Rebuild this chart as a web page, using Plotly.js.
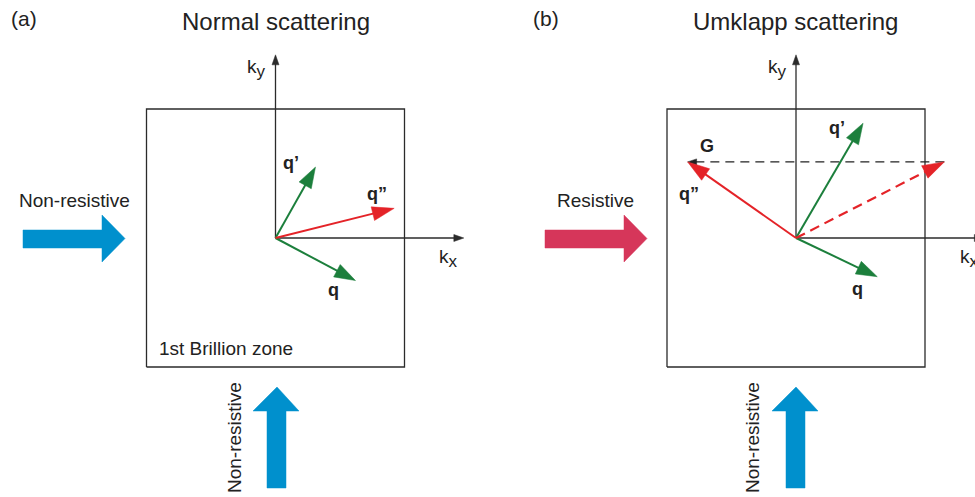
<!DOCTYPE html>
<html><head><meta charset="utf-8">
<script src="https://cdn.plot.ly/plotly-3.0.1.min.js"></script>
<style>html,body{margin:0;padding:0;background:#fff}#chart{width:975px;height:497px}</style>
</head><body><div id="chart"></div>
<script>
// ---------- data (k-space units, Brillouin zone half-width = 1) ----------
const zoneHalf = 1;
const panelTitles = ['Normal scattering', 'Umklapp scattering'];
const panelTags = ['(a)', '(b)'];
const kxAxisLen = [1.46, 1.46];
const kyAxisLen = [1.42, 1.42];
// Panel (a): normal process  q + q' = q''
const normal_q   = [0.62, -0.33];
const normal_qp  = [0.31, 0.55];
const normal_qpp = [0.92, 0.23];
// Panel (b): Umklapp process  q + q' = q'' + G
const umklapp_q   = [0.63, -0.30];
const umklapp_qp  = [0.52, 0.89];
const umklapp_sum = [1.15, 0.59];
const umklapp_qpp = [-0.84, 0.59];
const fluxLabels = ['Non-resistive', 'Resistive', 'Non-resistive', 'Non-resistive'];

// ---------- geometry helpers ----------
const W = 975, H = 497, S = 129;          // px per k-unit
const OA = 275.5, OB = 796, OY = 238;     // origins in px
const ax = p => (p - OA) / S, bx = p => (p - OB) / S, ky = p => (OY - p) / S;
const FONT = 'Liberation Sans, Arial, sans-serif';
const C = {green:'#1c7f3c', red:'#e42328', blue:'#0090cd', crimson:'#d6365a', ink:'#2b2b2b'};

const traces = [];
function line(xa, xs, ys, color, width, dash) {
  traces.push({type:'scatter', mode:'lines', x:xs, y:ys, xaxis:xa, yaxis:'y',
    line:{color:color, width:width, dash:dash||'solid'}, hoverinfo:'skip'});
}
function poly(xa, xs, ys, color) {
  traces.push({type:'scatter', mode:'lines', x:xs.concat([xs[0]]), y:ys.concat([ys[0]]),
    xaxis:xa, yaxis:'y', fill:'toself', fillcolor:color, line:{color:color, width:0.5}, hoverinfo:'skip'});
}
function arrow(xa, x0, y0, x1, y1, color, width, dash, hl, hw) {
  const dx = x1 - x0, dy = y1 - y0, L = Math.hypot(dx, dy), ux = dx / L, uy = dy / L;
  const hlu = hl / S, hwu = hw / S / 2;
  const bxx = x1 - ux * hlu, byy = y1 - uy * hlu;
  const lx = x1 - ux * hlu * 0.85, ly = y1 - uy * hlu * 0.85;
  line(xa, [x0, lx], [y0, ly], color, width, dash);
  poly(xa, [x1, bxx - uy * hwu, bxx + uy * hwu], [y1, byy + ux * hwu, byy - ux * hwu], color);
}

['x', 'x2'].forEach((xa, i) => {
  // Brillouin zone
  line(xa, [-zoneHalf, zoneHalf, zoneHalf, -zoneHalf, -zoneHalf],
           [-zoneHalf, -zoneHalf, zoneHalf, zoneHalf, -zoneHalf], C.ink, 1.3);
  // k axes
  arrow(xa, 0, 0, kxAxisLen[i], 0, C.ink, 1.3, 'solid', 10, 7);
  arrow(xa, 0, 0, 0, kyAxisLen[i], C.ink, 1.3, 'solid', 10, 7);
});

// panel (a) vectors
arrow('x', 0, 0, normal_q[0], normal_q[1], C.green, 2, 'solid', 21, 14);
arrow('x', 0, 0, normal_qp[0], normal_qp[1], C.green, 2, 'solid', 21, 14);
arrow('x', 0, 0, normal_qpp[0], normal_qpp[1], C.red, 2, 'solid', 22, 14);
// panel (b) vectors
arrow('x2', umklapp_sum[0], umklapp_sum[1], umklapp_qpp[0], umklapp_qpp[1], '#222', 1.1, '9px,6px', 9, 6);
arrow('x2', 0, 0, umklapp_q[0], umklapp_q[1], C.green, 2, 'solid', 21, 14);
arrow('x2', 0, 0, umklapp_qp[0], umklapp_qp[1], C.green, 2, 'solid', 21, 14);
arrow('x2', 0, 0, umklapp_sum[0], umklapp_sum[1], C.red, 2.2, '10px,6px', 22, 14);
arrow('x2', 0, 0, umklapp_qpp[0], umklapp_qpp[1], C.red, 2, 'solid', 22, 14);

// block arrows (flux direction indicators)
const hArrowPx = [[23,230],[102,230],[102,215],[125,238.5],[102,262],[102,248],[23,248]];
const vArrowPx = [[267,488],[267,411],[253,411],[277,387],[299,411],[286,411],[286,488]];
poly('x', hArrowPx.map(p => ax(p[0])), hArrowPx.map(p => ky(p[1])), C.blue);
poly('x2', hArrowPx.map(p => bx(p[0] + 522)), hArrowPx.map(p => ky(p[1])), C.crimson);
poly('x', vArrowPx.map(p => ax(p[0])), vArrowPx.map(p => ky(p[1])), C.blue);
poly('x2', vArrowPx.map(p => bx(p[0] + 519)), vArrowPx.map(p => ky(p[1])), C.blue);

// ---------- text ----------
function txt(px, py, text, size, opts) {
  return Object.assign({xref:'paper', yref:'paper', x:px / W, y:1 - py / H, text:text,
    showarrow:false, xanchor:'center', yanchor:'middle',
    font:{family:FONT, size:size, color:'#222'}}, opts || {});
}
const kSub = s => 'k<sub><span style="font-size:17px">' + s + '</span></sub>';
const ann = [
  txt(24, 18, panelTags[0], 21), txt(546, 18, panelTags[1], 21),
  txt(276, 22, panelTitles[0], 24), txt(795, 22, panelTitles[1], 24),
  txt(74, 200, fluxLabels[0], 19), txt(595, 200, fluxLabels[1], 19),
  txt(234, 438, fluxLabels[2], 19, {textangle:-90}), txt(752, 438, fluxLabels[3], 19, {textangle:-90}),
  txt(226, 348, '1st Brillion zone', 19),
  txt(256, 68, kSub('y'), 19), txt(777, 68, kSub('y'), 19),
  txt(448, 258, kSub('x'), 19), txt(969, 258, kSub('x'), 19),
  txt(291, 163, '<b>q\u2019</b>', 18), txt(377, 194, '<b>q\u201D</b>', 18), txt(333, 290, '<b>q</b>', 18),
  txt(837, 128, '<b>q\u2019</b>', 18), txt(689, 194, '<b>q\u201D</b>', 18), txt(857, 289, '<b>q</b>', 18),
  txt(707, 146, '<b>G</b>', 18)
];

const hidden = {visible:false, fixedrange:true, showgrid:false, zeroline:false};
const layout = {
  width:W, height:H, margin:{l:0, r:0, t:0, b:0}, showlegend:false,
  paper_bgcolor:'#fff', plot_bgcolor:'#fff',
  xaxis:Object.assign({domain:[0, 0.5], range:[ax(0), ax(487.5)]}, hidden),
  xaxis2:Object.assign({domain:[0.5, 1], range:[bx(487.5), bx(975)], anchor:'y'}, hidden),
  yaxis:Object.assign({domain:[0, 1], range:[ky(497), ky(0)]}, hidden),
  annotations:ann
};
Plotly.newPlot('chart', traces, layout, {staticPlot:true, displayModeBar:false});
</script></body></html>
